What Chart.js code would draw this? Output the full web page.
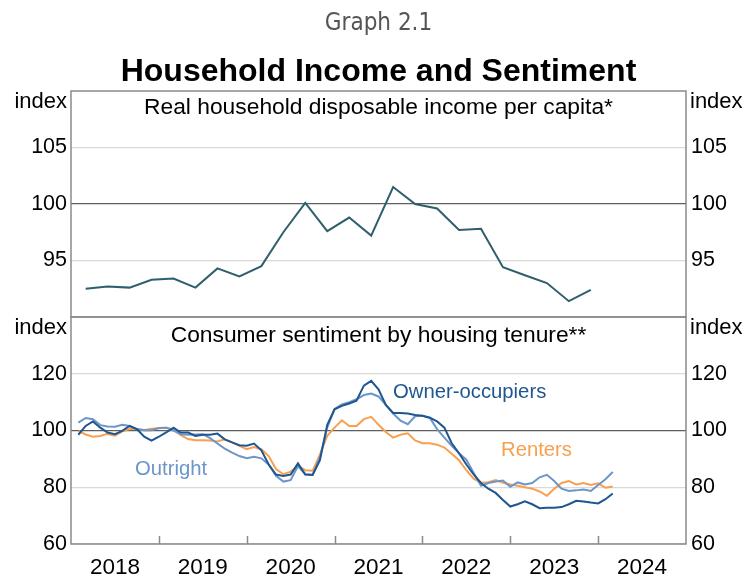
<!DOCTYPE html>
<html>
<head>
<meta charset="utf-8">
<script src="https://cdn.jsdelivr.net/npm/chart.js@4.4.1/dist/chart.umd.min.js"></script>
<style>
  html, body { margin: 0; padding: 0; background: #fff; }
  #wrap { position: relative; width: 745px; height: 578px; }
  #wrap canvas { position: absolute; left: 0; top: 0; }
</style>
</head>
<body>
<div id="wrap">
  <canvas id="topChart" width="745" height="578"></canvas>
  <canvas id="botChart" width="745" height="578"></canvas>
</div>
<script>
// ===== DATA =====
const yearLabels = [2018, 2019, 2020, 2021, 2022, 2023, 2024];

// real household disposable income per capita, quarterly from Mar 2018
const incomeStart = [2018, 3];
const incomeIndex = [92.5, 92.7, 92.6, 93.3, 93.4, 92.6, 94.3, 93.6, 94.5, 97.5,
  100.1, 97.6, 98.8, 97.2, 101.5, 100.0, 99.6, 97.7, 97.8, 94.4,
  93.7, 93.0, 91.4, 92.4];
const incomeTicks = [95, 100, 105];

// consumer sentiment by housing tenure, monthly from Feb 2018
const sentimentStart = [2018, 2];
const ownerOccupiers = [98.5, 101.6, 103.2, 101, 99.3, 98.7, 99.9, 101.6, 100.5, 97.8,
  96.4, 97.8, 99.3, 101, 99.3, 99.3, 98.1, 98.5, 98.5, 98.9,
  96.9, 95.8, 94.8, 94.6, 95.4, 93, 88, 84.5, 84, 84.5,
  88.4, 84.5, 84.3, 89.5, 102, 107.5, 108.7, 109.5, 110.5, 115.8,
  117.5, 114.5, 109, 106.2, 106.2, 106, 105.5, 105.2, 104.5, 103.2,
  101, 95.5, 92, 88, 84.5, 81.5, 79.5, 78, 75.5, 73.2,
  74, 75, 74, 72.6, 72.8, 72.8, 73, 74, 75.2, 75,
  74.6, 74.3, 75.8, 77.8];
const outright = [102.8, 104.4, 104, 101.9, 101.4, 101.3, 102, 101.6, 100.5, 100.1,
  100.1, 100.9, 101, 100, 98.7, 98.5, 98.6, 98.7, 97.3, 95.4,
  93.6, 92.2, 91, 90.2, 90.7, 90.2, 88, 84, 82, 82.5,
  87.5, 84.6, 84.4, 90.5, 101, 107.6, 109.2, 110, 111, 112.5,
  113, 112, 109, 106, 103.5, 102.2, 105, 105.2, 104.5, 100.5,
  97.5, 94.6, 92, 89.7, 85, 80.5, 81.5, 82, 82.4, 80.2,
  81.7, 81, 81.5, 83.5, 84.4, 82.2, 79.5, 78.7, 78.9, 79.2,
  78.7, 80.8, 82.8, 85.4];
const renters = [99.9, 98.6, 97.8, 98.1, 98.8, 98.2, 99.7, 100.5, 100.5, 100.2,
  100.6, 100.8, 101, 100.4, 98.4, 97, 96.6, 96.6, 96.5, 96.1,
  96.9, 95.8, 94.6, 93.4, 94.2, 93.4, 91, 86.4, 84.6, 85.5,
  87.5, 86, 85.8, 91.6, 98.1, 101, 103.6, 101.6, 101.6, 104,
  104.8, 102, 99.5, 97.5, 98.5, 99, 96.5, 95.5, 95.5, 95,
  94, 91.8, 89.5, 86, 83, 81.6, 81.8, 82.5, 81.6, 81,
  80.5, 80, 79.5, 78.5, 77, 79.5, 81.5, 82.2, 81, 81.5,
  80.8, 81.4, 79.8, 80.3];
const sentimentTicks = [60, 80, 100, 120];

// ===== STYLE =====
const FONT = '"Liberation Sans", Arial, sans-serif';
const frameColor = '#8a8a8a';
const gridLight = '#dadada';
const gridDark = '#5e5e5e';
const colIncome = '#2f5f6c';
const colOwner = '#1f5690';
const colOutright = '#6c96c8';
const colRenters = '#f9a050';

Chart.defaults.font.family = FONT;
Chart.defaults.color = '#000';

// month index -> decimal year
function toYear(start, i, step) {
  return start[0] + (start[1] - 1 + i * step) / 12;
}
const toPoints = (start, vals, step) => vals.map((v, i) => ({ x: toYear(start, i, step), y: v }));

function yAxis(pos, min, max, ticks, width) {
  return {
    position: pos, min, max,
    afterBuildTicks: s => { s.ticks = ticks.map(v => ({ value: v })); },
    afterFit: s => { s.width = width; },
    ticks: { padding: pos === 'left' ? 4 : 5, font: { size: 21.5 }, color: '#000' },
    grid: pos === 'left'
      ? { drawTicks: false, lineWidth: 1.3, color: c => c.tick && c.tick.value === 100 ? gridDark : gridLight }
      : { display: false, drawTicks: false },
    border: { display: false }
  };
}

function frame(chart) {
  const { ctx, chartArea: a } = chart;
  ctx.save();
  ctx.strokeStyle = frameColor;
  ctx.lineWidth = 1.5;
  ctx.strokeRect(a.left, a.top, a.right - a.left, a.bottom - a.top);
  ctx.restore();
}

function text(ctx, str, x, y, font, color, align) {
  ctx.font = font;
  ctx.fillStyle = color;
  ctx.textAlign = align;
  ctx.textBaseline = 'middle';
  ctx.fillText(str, x, y);
}

// ===== TOP PANEL =====
const topDecor = {
  id: 'topDecor',
  afterDraw(chart) {
    const { ctx, chartArea: a } = chart;
    frame(chart);
    ctx.save();
    const mid = (a.left + a.right) / 2;
    text(ctx, 'Graph 2.1', mid, 24, '24px "DejaVu Sans Condensed", "DejaVu Sans", sans-serif', '#555', 'center');
    text(ctx, 'Household Income and Sentiment', mid, 72, 'bold 32px ' + FONT, '#000', 'center');
    text(ctx, 'Real household disposable income per capita*', mid, 108, '22.8px ' + FONT, '#000', 'center');
    text(ctx, 'index', a.left - 4, a.top + 11, '22px ' + FONT, '#000', 'right');
    text(ctx, 'index', a.right + 4, a.top + 11, '22px ' + FONT, '#000', 'left');
    ctx.restore();
  }
};

new Chart(document.getElementById('topChart'), {
  type: 'line',
  data: {
    datasets: [{
      data: toPoints(incomeStart, incomeIndex, 3),
      borderColor: colIncome, borderWidth: 2, pointRadius: 0, tension: 0
    }]
  },
  options: {
    responsive: false, animation: false, devicePixelRatio: 1,
    layout: { padding: { top: 91, bottom: 578 - 317, left: 0, right: 0 } },
    plugins: { legend: { display: false }, tooltip: { enabled: false } },
    scales: {
      x: { type: 'linear', min: 2018, max: 2025, display: false },
      y: yAxis('left', 90, 110, incomeTicks, 71),
      y2: yAxis('right', 90, 110, incomeTicks, 59)
    }
  },
  plugins: [topDecor]
});

// ===== BOTTOM PANEL =====
const botDecor = {
  id: 'botDecor',
  afterDraw(chart) {
    const { ctx, chartArea: a, scales } = chart;
    frame(chart);
    ctx.save();
    // year tick marks pointing up from the axis
    ctx.strokeStyle = frameColor;
    ctx.lineWidth = 1.5;
    for (let yr = yearLabels[1]; yr <= yearLabels[yearLabels.length - 1]; yr++) {
      const px = Math.round(scales.x.getPixelForValue(yr)) + 0.5;
      ctx.beginPath();
      ctx.moveTo(px, a.bottom);
      ctx.lineTo(px, a.bottom - 8);
      ctx.stroke();
    }
    const mid = (a.left + a.right) / 2;
    text(ctx, 'Consumer sentiment by housing tenure**', mid, a.top + 19, '22.8px ' + FONT, '#000', 'center');
    text(ctx, 'index', a.left - 4, a.top + 11, '22px ' + FONT, '#000', 'right');
    text(ctx, 'index', a.right + 4, a.top + 11, '22px ' + FONT, '#000', 'left');
    text(ctx, 'Owner-occupiers', 393, 392, '20.3px ' + FONT, colOwner, 'left');
    text(ctx, 'Renters', 501, 450, '20.3px ' + FONT, colRenters, 'left');
    text(ctx, 'Outright', 135, 469, '20.3px ' + FONT, colOutright, 'left');
    ctx.restore();
  }
};

new Chart(document.getElementById('botChart'), {
  type: 'line',
  data: {
    datasets: [
      { label: 'Owner-occupiers', data: toPoints(sentimentStart, ownerOccupiers, 1),
        borderColor: colOwner, borderWidth: 2, pointRadius: 0, tension: 0 },
      { label: 'Outright', data: toPoints(sentimentStart, outright, 1),
        borderColor: colOutright, borderWidth: 2, pointRadius: 0, tension: 0 },
      { label: 'Renters', data: toPoints(sentimentStart, renters, 1),
        borderColor: colRenters, borderWidth: 2, pointRadius: 0, tension: 0 }
    ]
  },
  options: {
    responsive: false, animation: false, devicePixelRatio: 1,
    layout: { padding: { top: 317, bottom: 0, left: 0, right: 0 } },
    plugins: { legend: { display: false }, tooltip: { enabled: false } },
    scales: {
      x: {
        type: 'linear', min: 2018, max: 2025,
        afterBuildTicks: s => { s.ticks = yearLabels.map(y => ({ value: y + 0.5 })); },
        afterFit: s => { s.height = 34; },
        ticks: { callback: v => String(Math.floor(v)), font: { size: 22.5 }, color: '#000', padding: 10, maxRotation: 0, autoSkip: false },
        grid: { display: false, drawTicks: false },
        border: { display: false }
      },
      y: yAxis('left', 60, 140, sentimentTicks, 71),
      y2: yAxis('right', 60, 140, sentimentTicks, 59)
    }
  },
  plugins: [botDecor]
});
</script>
</body>
</html>
